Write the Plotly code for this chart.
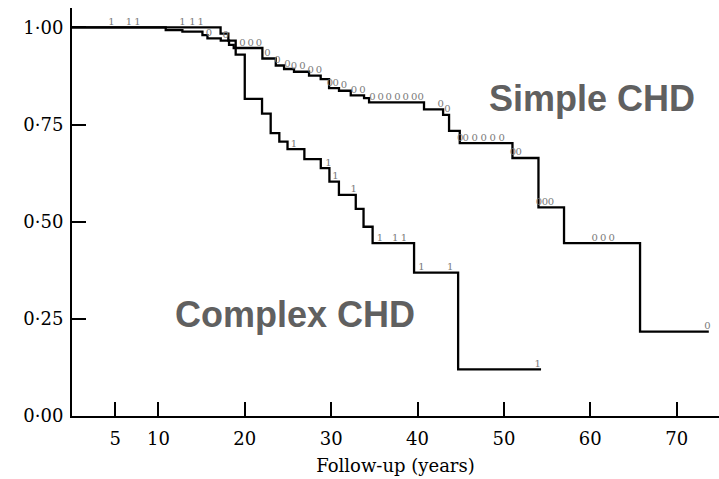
import plotly.graph_objects as go
import numpy as np

# ---- data ----
simple_times = [0, 10.85, 12.78, 15.10, 15.68, 17.22, 18.18, 18.72, 22.04, 23.59, 24.55, 25.70,
                27.44, 28.79, 29.76, 30.91, 32.27, 33.81, 34.39, 40.75, 42.96, 43.65, 44.89,
                50.99, 54.00, 56.96, 65.76, 73.72]
simple_surv = [1.0, 0.993, 0.989, 0.980, 0.972, 0.966, 0.955, 0.947, 0.920, 0.902, 0.893, 0.886,
               0.876, 0.867, 0.844, 0.837, 0.825, 0.818, 0.807, 0.789, 0.775, 0.734, 0.702,
               0.664, 0.537, 0.445, 0.217, 0.217]
simple_censor = [15.86, 17.80, 19.73, 20.69, 21.65, 22.62, 23.78, 24.94, 25.70, 26.68, 27.64, 28.60,
                 29.85, 30.53, 31.49, 32.65, 33.62, 34.78, 35.74, 36.67, 37.67, 38.64, 39.60, 40.37,
                 42.69, 43.46, 44.95, 45.58, 46.62, 47.67, 48.71, 49.75, 51.05, 51.72, 54.05, 54.75,
                 55.45, 60.52, 61.50, 62.49, 73.57]

complex_times = [0, 17.2, 18.1, 18.95, 20.0, 22.0, 23.0, 24.0, 24.95, 26.9, 28.8, 29.8, 30.9,
                 32.85, 33.75, 34.8, 39.6, 44.7, 54.3]
complex_surv = [1.0, 0.984, 0.966, 0.930, 0.816, 0.778, 0.728, 0.706, 0.687, 0.661, 0.638, 0.603,
                0.569, 0.533, 0.487, 0.445, 0.369, 0.120, 0.120]
complex_censor = [4.56, 6.6, 7.57, 12.78, 13.94, 14.9, 25.7, 29.7, 30.5, 32.6, 35.65, 37.4, 38.44,
                  40.45, 43.77, 53.9]

y_tickvals = [0, 0.25, 0.5, 0.75, 1.0]
y_ticktext = ["0·00", "0·25", "0·50", "0·75", "1·00"]
x_tickvals = [5, 10, 20, 30, 40, 50, 60, 70]
x_ticktext = ["5", "10", "20", "30", "40", "50", "60", "70"]


def level_at(times, surv, t):
    idx = np.searchsorted(np.array(times), t, side="right") - 1
    return surv[max(idx, 0)]


W, H = 719, 479
ML, MR, MT, MB = 72, 0, 8, 63
XMAX = 74.9
YMAX = 1.050
PX_PER_UNIT = (H - MT - MB) / YMAX
MARK_LIFT = 5.0 / PX_PER_UNIT  # marks sit just on top of the line (style offset)

fig = go.Figure()

line_style = dict(color="black", width=2.3, shape="hv")
fig.add_trace(go.Scatter(x=simple_times, y=simple_surv, mode="lines", line=line_style,
                         hoverinfo="skip", showlegend=False))
fig.add_trace(go.Scatter(x=complex_times, y=complex_surv, mode="lines", line=line_style,
                         hoverinfo="skip", showlegend=False))

mark_font = dict(family="DejaVu Serif", size=10, color="#7a7a7a")
fig.add_trace(go.Scatter(
    x=simple_censor,
    y=[level_at(simple_times, simple_surv, t) + MARK_LIFT for t in simple_censor],
    mode="text", text=["0"] * len(simple_censor), textposition="middle center",
    textfont=mark_font, hoverinfo="skip", showlegend=False))
fig.add_trace(go.Scatter(
    x=complex_censor,
    y=[level_at(complex_times, complex_surv, t) + MARK_LIFT for t in complex_censor],
    mode="text", text=["1"] * len(complex_censor), textposition="middle center",
    textfont=mark_font, hoverinfo="skip", showlegend=False))

label_font = dict(family="Liberation Sans", size=36, color="#606060")
fig.add_annotation(x=60.2, y=0.818, xref="x", yref="y", text="<b>Simple CHD</b>",
                   showarrow=False, font=label_font, xanchor="center", yanchor="middle")
fig.add_annotation(x=25.8, y=0.2625, xref="x", yref="y", text="<b>Complex CHD</b>",
                   showarrow=False, font=label_font, xanchor="center", yanchor="middle")

tick_font = dict(family="DejaVu Serif", size=18, color="black")
fig.update_layout(
    width=W, height=H,
    margin=dict(l=ML, r=MR, t=MT, b=MB, pad=0),
    paper_bgcolor="white", plot_bgcolor="white",
    xaxis=dict(range=[0, XMAX], showgrid=False, zeroline=False,
               showline=True, linecolor="black", linewidth=2,
               ticks="inside", ticklen=14, tickwidth=1.6, tickcolor="black",
               tickvals=x_tickvals, ticktext=x_ticktext, tickfont=tick_font,
               ticklabelstandoff=5,
               title=dict(text="Follow-up (years)", font=tick_font, standoff=12)),
    yaxis=dict(range=[0, YMAX], showgrid=False, zeroline=False,
               showline=True, linecolor="black", linewidth=2,
               ticks="inside", ticklen=14, tickwidth=1.6, tickcolor="black",
               ticklabelstandoff=3,
               tickvals=y_tickvals, ticktext=y_ticktext, tickfont=tick_font),
)

fig.write_html("out.html")
